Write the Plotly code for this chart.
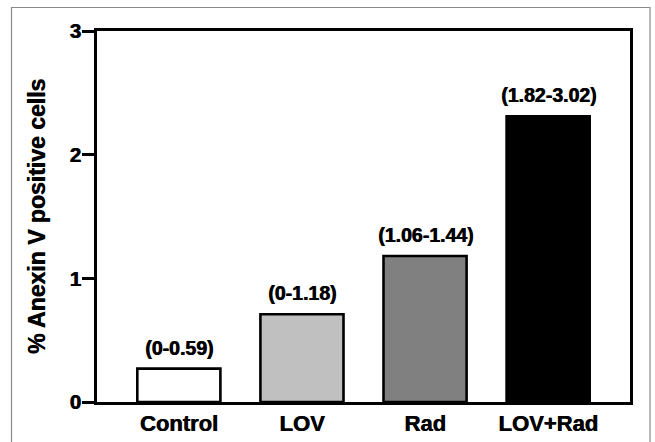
import plotly.graph_objects as go

categories = ["Control", "LOV", "Rad", "LOV+Rad"]
values = [0.27, 0.71, 1.18, 2.31]
range_labels = ["(0-0.59)", "(0-1.18)", "(1.06-1.44)", "(1.82-3.02)"]
bar_colors = ["#ffffff", "#c0c0c0", "#808080", "#000000"]
y_ticks = [0, 1, 2, 3]

W, H = 655, 442
ML, MR, MT, MB = 97, 25, 31, 40
FONT = "Liberation Sans, Arial, sans-serif"
SHADOW = "0.7px 0px 0px #000"

def f(size):
    return dict(family=FONT, size=size, color="#000", weight="bold", shadow=SHADOW)

fig = go.Figure()
fig.add_trace(go.Bar(
    x=categories, y=values,
    marker=dict(color=bar_colors, line=dict(color="#000000", width=2.6)),
    width=0.675, showlegend=False, hoverinfo="skip",
))

for c, v, t in zip(categories, values, range_labels):
    fig.add_annotation(x=c, y=v, text=t, showarrow=False, yanchor="bottom",
                       yshift=8, font=f(19.5))

# outer grey frame (figure border)
pw = W - ML - MR
ph = H - MT - MB
def px_x(p): return (p - ML) / pw
def px_y(p): return (H - MB - p) / ph
fig.add_shape(type="rect", xref="paper", yref="paper",
              x0=px_x(11.5), x1=px_x(650), y0=px_y(460), y1=px_y(7.5),
              line=dict(color="#8a8a8a", width=1.2), fillcolor="rgba(0,0,0,0)", layer="below")

fig.update_layout(
    width=W, height=H,
    margin=dict(l=ML, r=MR, t=MT, b=MB, autoexpand=False),
    paper_bgcolor="#ffffff", plot_bgcolor="#ffffff",
    font=dict(family=FONT, color="#000"),
    bargap=0.3,
)
fig.update_xaxes(
    range=[-0.665, 3.665], showgrid=False, zeroline=False,
    showline=True, linecolor="#000", linewidth=3, mirror=True,
    ticks="",
    tickfont=f(22),
    fixedrange=True,
)
fig.update_yaxes(
    range=[0, 3], tickvals=y_ticks, ticktext=[str(v) for v in y_ticks],
    showgrid=False, zeroline=False,
    showline=True, linecolor="#000", linewidth=3, mirror=True,
    ticks="outside", ticklen=12, tickwidth=3, tickcolor="#000",
    ticklabelstandoff=-3,
    tickfont=f(20.5),
    title=dict(text="% Anexin V positive cells", standoff=18, font=f(23)),
    fixedrange=True,
)

fig.write_html("out.html")
